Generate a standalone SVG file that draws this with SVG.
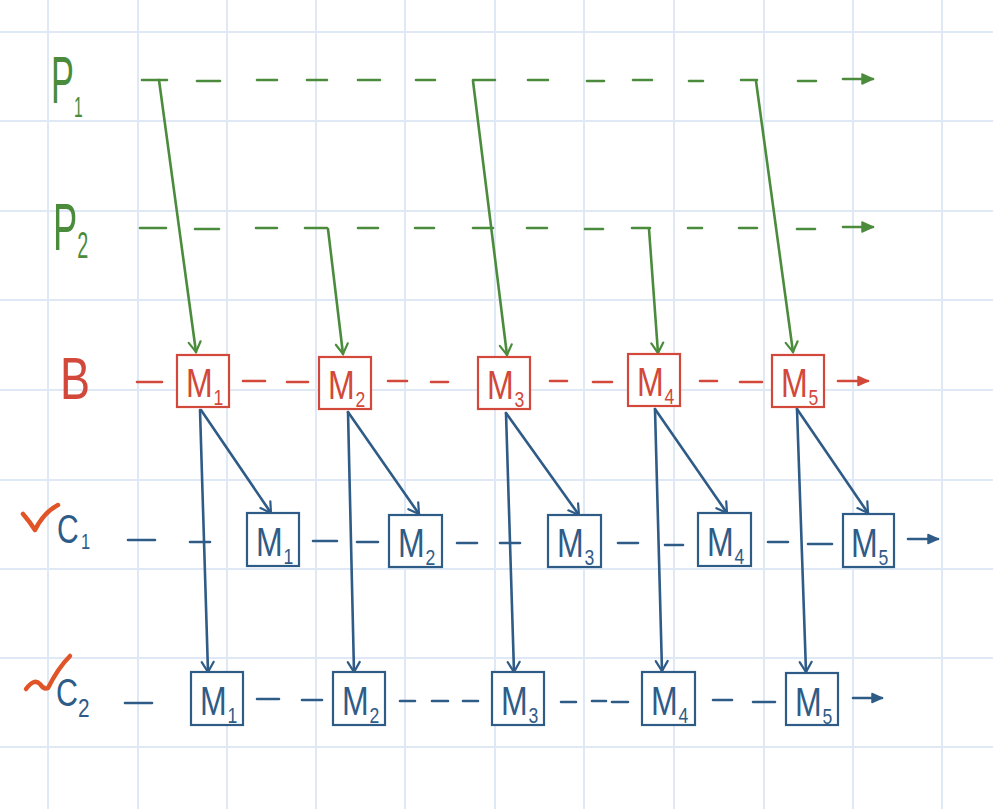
<svg xmlns="http://www.w3.org/2000/svg" width="993" height="809" viewBox="0 0 993 809">
<style>
.grid line{stroke:#dfe9f5;stroke-width:2}
.g{stroke:#4b8c3c;stroke-width:2.6;stroke-linecap:round;fill:none}
.r{stroke:#d2483a;stroke-width:2.6;stroke-linecap:round;fill:none}
.b{stroke:#2f5b87;stroke-width:2.6;stroke-linecap:round;fill:none}
.rbox{fill:#fff;stroke:#d2483a;stroke-width:2.2}
.bbox{fill:#fff;stroke:#2f5b87;stroke-width:2.2}
.lbl{font-family:"Liberation Sans",Arial,sans-serif}
.rt{fill:#d2483a}
.bt{fill:#2f5b87}
.gt{fill:#4b8c3c}
.m{font-size:40px}
.s{font-size:22px}
.chk{stroke:#e05428;stroke-width:4.5;stroke-linecap:round;stroke-linejoin:round;fill:none}
</style>
<defs>
<marker id="ag" markerUnits="userSpaceOnUse" markerWidth="20" markerHeight="20" refX="0" refY="0" viewBox="-12 -10 14 20" orient="auto"><path d="M-10,-6 L0,0 L-10,6" fill="none" stroke="#4b8c3c" stroke-width="2.2" stroke-linecap="round"/></marker>
<marker id="ab" markerUnits="userSpaceOnUse" markerWidth="20" markerHeight="20" refX="0" refY="0" viewBox="-12 -10 14 20" orient="auto"><path d="M-10,-6 L0,0 L-10,6" fill="none" stroke="#2f5b87" stroke-width="2.2" stroke-linecap="round"/></marker>
<marker id="fg" markerUnits="userSpaceOnUse" markerWidth="20" markerHeight="20" refX="0" refY="0" viewBox="-12 -10 14 20" orient="auto"><path d="M-11,-5 L0,0 L-11,5 Z" fill="#4b8c3c" stroke="#4b8c3c" stroke-width="1.5" stroke-linejoin="round"/></marker>
<marker id="fr" markerUnits="userSpaceOnUse" markerWidth="20" markerHeight="20" refX="0" refY="0" viewBox="-12 -10 14 20" orient="auto"><path d="M-10,-4.5 L0,0 L-10,4.5 Z" fill="#d2483a" stroke="#d2483a" stroke-width="1.5" stroke-linejoin="round"/></marker>
<marker id="fb" markerUnits="userSpaceOnUse" markerWidth="20" markerHeight="20" refX="0" refY="0" viewBox="-12 -10 14 20" orient="auto"><path d="M-10,-4.5 L0,0 L-10,4.5 Z" fill="#2f5b87" stroke="#2f5b87" stroke-width="1.5" stroke-linejoin="round"/></marker>
</defs>
<rect width="993" height="809" fill="#fff"/>
<g class="grid">
<line x1="48" y1="0" x2="48" y2="809"/><line x1="138" y1="0" x2="138" y2="809"/><line x1="227" y1="0" x2="227" y2="809"/><line x1="316" y1="0" x2="316" y2="809"/><line x1="405" y1="0" x2="405" y2="809"/><line x1="495" y1="0" x2="495" y2="809"/><line x1="584" y1="0" x2="584" y2="809"/><line x1="674" y1="0" x2="674" y2="809"/><line x1="764" y1="0" x2="764" y2="809"/><line x1="853" y1="0" x2="853" y2="809"/><line x1="942" y1="0" x2="942" y2="809"/>
<line x1="0" y1="32" x2="993" y2="32"/><line x1="0" y1="121" x2="993" y2="121"/><line x1="0" y1="211" x2="993" y2="211"/><line x1="0" y1="300" x2="993" y2="300"/><line x1="0" y1="390" x2="993" y2="390"/><line x1="0" y1="480" x2="993" y2="480"/><line x1="0" y1="569" x2="993" y2="569"/><line x1="0" y1="658" x2="993" y2="658"/><line x1="0" y1="747" x2="993" y2="747"/>
</g>
<g id="connectors">
<g class="g">
<path d="M142,80H167M197,81H220M257,80H277M307,80H327M358,80H380M416,80H435M473,80H495M528,80H548M587,81H604M633,80H652M689,81H703M741,80H757M798,81H816"/>
<line x1="843" y1="79" x2="873" y2="79" marker-end="url(#fg)"/>
<path d="M140,228H166M195,229H219M256,228H277M305,228H327M358,228H378M415,228H434M473,228H493M527,228H547M585,229H603M632,228H650M688,228H702M739,228H757M797,229H815"/>
<line x1="843" y1="227" x2="873" y2="227" marker-end="url(#fg)"/>
<line x1="159" y1="80" x2="196" y2="352" marker-end="url(#ag)"/>
<line x1="473" y1="81" x2="507" y2="355" marker-end="url(#ag)"/>
<line x1="756" y1="81" x2="793" y2="352" marker-end="url(#ag)"/>
<line x1="328" y1="229" x2="343" y2="354" marker-end="url(#ag)"/>
<line x1="649" y1="229" x2="658" y2="353" marker-end="url(#ag)"/>
</g>
<g class="r">
<path d="M137,382H162M243,381H265M287,382H308M388,381H407M431,382H448M550,381H567M593,382H612M700,381H717M740,382H762"/>
<line x1="838" y1="381" x2="868" y2="381" marker-end="url(#fr)"/>
</g>
<g class="b">
<path d="M128,540H155M190,542H210M313,541H337M357,542H378M457,543H477M500,543H520M618,543H638M665,545H683M768,542H788M808,544H832"/>
<line x1="908" y1="539" x2="938" y2="539" marker-end="url(#fb)"/>
<path d="M125,703H152M257,699H279M302,700H322M400,701H415M432,701H448M463,701H478M561,702H576M592,701H606M612,702H628M713,700H732M753,702H775"/>
<line x1="853" y1="698" x2="882" y2="698" marker-end="url(#fb)"/>
<line x1="201" y1="410" x2="271" y2="513" marker-end="url(#ab)"/>
<line x1="200" y1="410" x2="208" y2="672" marker-end="url(#ab)"/>
<line x1="348" y1="412" x2="419" y2="514" marker-end="url(#ab)"/>
<line x1="348" y1="412" x2="354" y2="672" marker-end="url(#ab)"/>
<line x1="506" y1="413" x2="579" y2="515" marker-end="url(#ab)"/>
<line x1="506" y1="413" x2="514" y2="672" marker-end="url(#ab)"/>
<line x1="655" y1="409" x2="727" y2="513" marker-end="url(#ab)"/>
<line x1="655" y1="409" x2="662" y2="671" marker-end="url(#ab)"/>
<line x1="797" y1="409" x2="868" y2="513" marker-end="url(#ab)"/>
<line x1="797" y1="409" x2="806" y2="672" marker-end="url(#ab)"/>
</g>
</g>
<g id="P1" class="lbl gt"><text transform="translate(51,103) scale(0.52,1)" font-size="66">P<tspan font-size="30" dy="14">1</tspan></text></g>
<g id="P2" class="lbl gt"><text transform="translate(53,250) scale(0.55,1)" font-size="66">P<tspan font-size="36" dy="8">2</tspan></text></g>
<g id="B" class="lbl rt"><text transform="translate(60,399) scale(0.75,1)" font-size="60">B</text></g>
<g id="C1"><path class="chk" d="M23,514 Q30,522 35,530 Q44,512 58,505"/><text class="lbl bt" transform="translate(57,543) scale(0.75,1)" font-size="40">C<tspan font-size="22" dx="3" dy="6">1</tspan></text></g>
<g id="C2"><path class="chk" d="M26,689 Q34,678 40,684 Q44,690 48,688 Q58,668 70,656"/><text class="lbl bt" transform="translate(56,706) scale(0.8,1)" font-size="38">C<tspan font-size="26" dy="11">2</tspan></text></g>
<g id="B-M1" class="lbl rt"><rect class="rbox" x="177" y="355" width="52" height="52"/><text class="m" transform="translate(186,397) scale(0.8,1)">M<tspan class="s" dx="1" dy="8">1</tspan></text></g>
<g id="B-M2" class="lbl rt"><rect class="rbox" x="319" y="357" width="52" height="52"/><text class="m" transform="translate(328,399) scale(0.8,1)">M<tspan class="s" dx="1" dy="8">2</tspan></text></g>
<g id="B-M3" class="lbl rt"><rect class="rbox" x="478" y="357" width="52" height="52"/><text class="m" transform="translate(487,399) scale(0.8,1)">M<tspan class="s" dx="1" dy="8">3</tspan></text></g>
<g id="B-M4" class="lbl rt"><rect class="rbox" x="628" y="354" width="52" height="52"/><text class="m" transform="translate(637,396) scale(0.8,1)">M<tspan class="s" dx="1" dy="8">4</tspan></text></g>
<g id="B-M5" class="lbl rt"><rect class="rbox" x="772" y="355" width="52" height="52"/><text class="m" transform="translate(781,397) scale(0.8,1)">M<tspan class="s" dx="1" dy="8">5</tspan></text></g>
<g id="C1-M1" class="lbl bt"><rect class="bbox" x="247" y="513" width="52" height="53"/><text class="m" transform="translate(256,556) scale(0.8,1)">M<tspan class="s" dx="1" dy="8">1</tspan></text></g>
<g id="C1-M2" class="lbl bt"><rect class="bbox" x="389" y="515" width="53" height="52"/><text class="m" transform="translate(398,557) scale(0.8,1)">M<tspan class="s" dx="1" dy="8">2</tspan></text></g>
<g id="C1-M3" class="lbl bt"><rect class="bbox" x="548" y="515" width="53" height="52"/><text class="m" transform="translate(557,557) scale(0.8,1)">M<tspan class="s" dx="1" dy="8">3</tspan></text></g>
<g id="C1-M4" class="lbl bt"><rect class="bbox" x="698" y="513" width="53" height="53"/><text class="m" transform="translate(707,556) scale(0.8,1)">M<tspan class="s" dx="1" dy="8">4</tspan></text></g>
<g id="C1-M5" class="lbl bt"><rect class="bbox" x="843" y="514" width="51" height="53"/><text class="m" transform="translate(851,557) scale(0.8,1)">M<tspan class="s" dx="1" dy="8">5</tspan></text></g>
<g id="C2-M1" class="lbl bt"><rect class="bbox" x="191" y="672" width="52" height="53"/><text class="m" transform="translate(200,715) scale(0.8,1)">M<tspan class="s" dx="1" dy="8">1</tspan></text></g>
<g id="C2-M2" class="lbl bt"><rect class="bbox" x="333" y="672" width="52" height="53"/><text class="m" transform="translate(342,715) scale(0.8,1)">M<tspan class="s" dx="1" dy="8">2</tspan></text></g>
<g id="C2-M3" class="lbl bt"><rect class="bbox" x="492" y="672" width="52" height="53"/><text class="m" transform="translate(501,715) scale(0.8,1)">M<tspan class="s" dx="1" dy="8">3</tspan></text></g>
<g id="C2-M4" class="lbl bt"><rect class="bbox" x="642" y="672" width="53" height="53"/><text class="m" transform="translate(651,715) scale(0.8,1)">M<tspan class="s" dx="1" dy="8">4</tspan></text></g>
<g id="C2-M5" class="lbl bt"><rect class="bbox" x="786" y="673" width="52" height="52"/><text class="m" transform="translate(795,716) scale(0.8,1)">M<tspan class="s" dx="1" dy="8">5</tspan></text></g>
</svg>
